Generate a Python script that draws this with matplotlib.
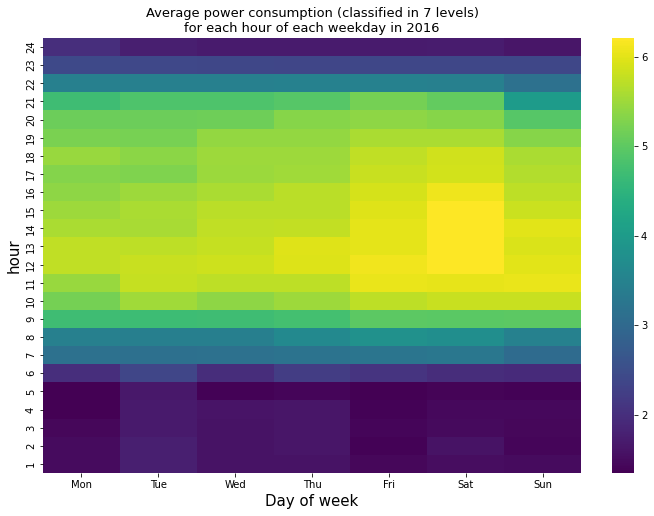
import numpy as np
import pandas as pd
import seaborn as sns
from matplotlib import pyplot as plt

# Average power level per hour (1..24) for each weekday
days = ["Mon", "Tue", "Wed", "Thu", "Fri", "Sat", "Sun"]
hours = list(range(1, 25))

mon = [1.49, 1.49, 1.43, 1.35, 1.35, 1.98, 3.15, 3.44, 4.70, 5.20, 5.46, 5.74,
       5.74, 5.60, 5.50, 5.38, 5.31, 5.46, 5.24, 5.12, 4.70, 3.44, 2.42, 1.98]
tue = [1.76, 1.76, 1.69, 1.69, 1.67, 2.37, 3.12, 3.42, 4.68, 5.51, 5.79, 5.81,
       5.72, 5.58, 5.60, 5.50, 5.27, 5.36, 5.22, 5.12, 4.85, 3.44, 2.40, 1.76]
wed = [1.59, 1.58, 1.59, 1.60, 1.38, 1.96, 3.14, 3.43, 4.70, 5.38, 5.73, 5.84,
       5.79, 5.75, 5.70, 5.60, 5.48, 5.50, 5.43, 5.13, 4.86, 3.44, 2.39, 1.70]
thu = [1.59, 1.62, 1.63, 1.62, 1.42, 2.22, 3.20, 3.63, 4.75, 5.50, 5.73, 5.95,
       5.97, 5.77, 5.70, 5.70, 5.51, 5.50, 5.43, 5.33, 4.92, 3.46, 2.37, 1.70]
fri = [1.43, 1.38, 1.42, 1.38, 1.35, 2.08, 3.24, 3.78, 4.99, 5.72, 6.05, 6.10,
       6.02, 6.01, 5.97, 5.89, 5.80, 5.75, 5.60, 5.38, 5.19, 3.46, 2.39, 1.70]
sat = [1.51, 1.58, 1.48, 1.45, 1.39, 1.96, 3.28, 3.74, 4.96, 5.80, 6.03, 6.21,
       6.21, 6.21, 6.21, 6.09, 5.87, 5.85, 5.60, 5.33, 5.04, 3.45, 2.39, 1.72]
sun = [1.49, 1.42, 1.43, 1.45, 1.37, 1.93, 3.03, 3.46, 4.99, 5.80, 6.05, 6.00,
       5.94, 5.99, 5.82, 5.73, 5.65, 5.60, 5.33, 4.92, 4.00, 3.15, 2.38, 1.62]

df = pd.DataFrame({"Mon": mon, "Tue": tue, "Wed": wed, "Thu": thu,
                   "Fri": fri, "Sat": sat, "Sun": sun}, index=hours)
df = df[days].iloc[::-1]  # hour 24 on top

fig = plt.figure(figsize=(654 / 72, 516 / 72), dpi=72)
ax = fig.add_axes([43 / 654, 1 - 473 / 516, 538 / 654, 435 / 516])
cax = fig.add_axes([612 / 654, 1 - 473 / 516, 22 / 654, 435 / 516])

sns.heatmap(df, cmap="viridis", ax=ax, cbar_ax=cax)
cax.tick_params(labelsize=10)

ax.set_title("Average power consumption (classified in 7 levels)\nfor each hour of each weekday in 2016",
             fontsize=13)
ax.set_xlabel("Day of week", fontsize=15)
ax.set_ylabel("hour", fontsize=15)
ax.tick_params(labelsize=10)
plt.setp(ax.get_yticklabels(), rotation=90, va="center")

fig.savefig("out.png", dpi=72)
